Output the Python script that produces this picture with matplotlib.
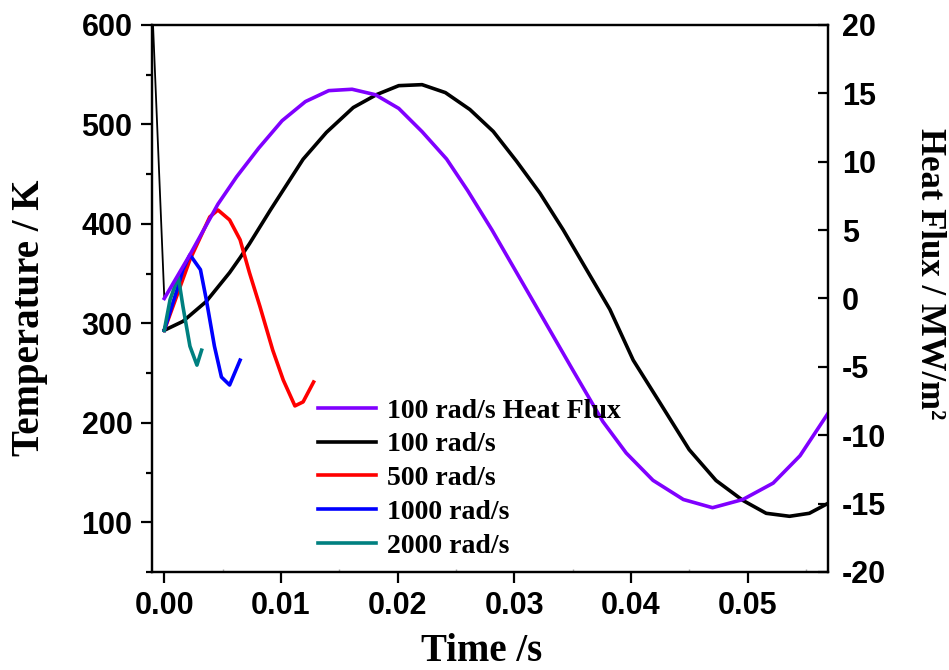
import numpy as np
import matplotlib
matplotlib.use("Agg")
import matplotlib.pyplot as plt
from matplotlib.ticker import MultipleLocator

plt.rcParams["axes.unicode_minus"] = False

# temperature curves (K)
t_100 = [0.0, 0.0016, 0.0036, 0.0056, 0.0065, 0.0073, 0.0091, 0.0119, 0.0139, 0.0162, 0.0182,
         0.0201, 0.0221, 0.0241, 0.0262, 0.0282, 0.0302, 0.0322, 0.0342, 0.0362, 0.0382,
         0.0402, 0.0425, 0.0450, 0.0473, 0.0496, 0.0516, 0.0536, 0.0553, 0.0569]
T_100 = [293, 302, 322, 351, 366, 380, 414, 465, 492, 517, 530,
         539, 540, 532, 515, 493, 463, 431, 394, 354, 314,
         263, 220, 173, 142, 122, 109, 106, 109, 119]

t_500 = [0.0, 0.0022, 0.0039, 0.0046, 0.0056, 0.0065, 0.0073, 0.0082, 0.0093, 0.0102,
         0.0112, 0.0119, 0.0128]
T_500 = [293, 364, 407, 414, 404, 384, 351, 317, 273, 243, 217, 221, 241]

t_1000 = [0.0, 0.0011, 0.0016, 0.0022, 0.0031, 0.0036, 0.0043, 0.0049, 0.0056, 0.0065]
T_1000 = [293, 334, 354, 369, 354, 324, 277, 246, 238, 263]

t_2000 = [0.0, 0.0005, 0.0012, 0.0016, 0.0022, 0.0028, 0.0032]
T_2000 = [293, 324, 347, 317, 277, 258, 273]

# initial jump of the heat flux trace
t_jump = [-0.001, 0.0]
T_jump = [610, 326]

# heat flux at 100 rad/s (MW/m^2)
t_hf = [0.0, 0.0022, 0.0046, 0.0062, 0.0081, 0.0101, 0.0121, 0.0141, 0.0161, 0.0181,
        0.0201, 0.0221, 0.0242, 0.0260, 0.0281, 0.0302, 0.0325, 0.0350, 0.0376, 0.0396,
        0.0419, 0.0445, 0.0470, 0.0496, 0.0522, 0.0545, 0.0569]
hf = [0.0, 3.2, 6.9, 8.9, 11.0, 13.0, 14.4, 15.2, 15.3, 14.9,
      13.9, 12.2, 10.2, 7.9, 5.0, 1.9, -1.5, -5.2, -9.0, -11.3,
      -13.3, -14.7, -15.3, -14.7, -13.5, -11.5, -8.4]

serif = ["Liberation Serif", "DejaVu Serif"]
sans = ["Liberation Sans", "DejaVu Sans"]

fig = plt.figure(figsize=(9.49, 6.70), dpi=100)
ax = fig.add_axes([0.1602, 0.1463, 0.7123, 0.8164])
ax2 = ax.twinx()

ax.plot(t_jump, T_jump, color="black", lw=1.3)
l1, = ax.plot(t_100, T_100, color="black", lw=2.6, label="100 rad/s")
l2, = ax.plot(t_500, T_500, color="#ff0000", lw=2.6, label="500 rad/s")
l3, = ax.plot(t_1000, T_1000, color="#0000ff", lw=2.6, label="1000 rad/s")
l4, = ax.plot(t_2000, T_2000, color="#008080", lw=2.6, label="2000 rad/s")
l0, = ax2.plot(t_hf, hf, color="#8000ff", lw=2.6, label="100 rad/s Heat Flux")

ax.set_xlim(-0.00105, 0.0569)
ax.set_ylim(50, 600)
ax2.set_ylim(-20, 20)

ax.set_xticks([0.0, 0.01, 0.02, 0.03, 0.04, 0.05])
ax.set_xticklabels(["0.00", "0.01", "0.02", "0.03", "0.04", "0.05"])
ax.xaxis.set_minor_locator(MultipleLocator(0.005))
ax.set_yticks([100, 200, 300, 400, 500, 600])
ax.yaxis.set_minor_locator(MultipleLocator(50))
ax2.set_yticks(np.arange(-20, 21, 5))

for a in (ax, ax2):
    for s in a.spines.values():
        s.set_linewidth(1.6)

ax.tick_params(axis="both", which="major", direction="out", length=8, width=1.6, pad=6)
ax.tick_params(axis="y", which="minor", direction="out", length=4, width=1.6)
ax.tick_params(axis="x", which="minor", direction="in", length=2, width=1, color="#aaaaaa")
ax2.tick_params(axis="y", which="major", direction="in", length=7, width=1.6, pad=10)

for lab in ax.get_xticklabels() + ax.get_yticklabels() + ax2.get_yticklabels():
    lab.set_family(sans)
    lab.set_fontweight("bold")
    lab.set_fontsize(22)

fig.text(0.508, 0.014, "Time /s", family=serif, fontweight="bold", fontsize=28,
         ha="center", va="baseline")
fig.text(0.031, 0.525, "Temperature / K", family=serif, fontweight="bold", fontsize=28,
         rotation=90, ha="center", va="center")
fig.text(0.979, 0.592, "Heat Flux / MW/m\u00b2", family=serif, fontweight="bold",
         fontsize=25, rotation=-90, ha="center", va="center")

leg = ax2.legend(handles=[l0, l1, l2, l3, l4], loc="center left",
                 bbox_to_anchor=(0.335, 0.286), bbox_transform=fig.transFigure,
                 frameon=False, borderpad=0, borderaxespad=0, labelspacing=0.3,
                 handlelength=2.1, handletextpad=0.4,
                 prop={"family": serif, "weight": "bold", "size": 20})

fig.savefig("out.png", dpi=100)
